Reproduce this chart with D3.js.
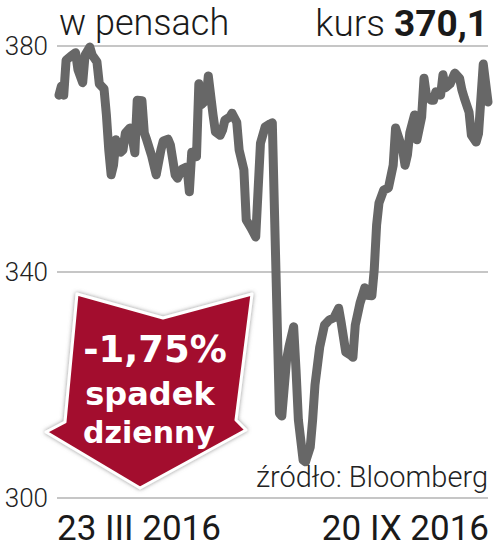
<!DOCTYPE html>
<html>
<head>
<meta charset="utf-8">
<script src="https://cdn.jsdelivr.net/npm/d3@7"></script>
<style>
  html, body { margin: 0; padding: 0; background: #fff; }
  svg { display: block; }
</style>
</head>
<body>
<svg id="chart" width="493" height="549"></svg>
<script>
// ---- data ----
// day offsets since 23 III 2016
const days = [0,1,2,3,5,7,8,10,11,13,14,16,17,19,20,21,22,23,24,26,27,28,30,31,32,33,35,36,37,39,41,43,44,46,47,49,50,52,54,55,56,58,59,60,62,63,65,66,68,69,70,72,73,75,76,78,79,81,83,84,85,87,89,90,93,94,96,97,99,100,101,103,104,106,107,108,110,112,114,116,118,119,121,123,124,125,127,129,130,132,133,134,135,137,139,141,142,143,145,146,147,148,150,151,153,154,155,157,158,159,161,162,163,165,167,169,170,171,173,174,176,177,179,181];
const values = [371.3,372.9,371.3,377.5,378.2,378.8,375.8,373.5,378.4,379.8,378.4,377.2,373.3,372.4,367.8,361.6,357.2,358.9,363.4,361.2,361.6,364.6,365.5,363.4,361.1,370.4,370.3,364.6,363.4,360.7,357.2,361.6,363.2,363.5,362.5,357.2,356.6,358.2,358.6,354.2,361.2,360.4,373.3,369.6,370.4,374.7,367.8,364.8,364.2,365.1,366.9,367.4,368.1,366.5,361.6,358.1,349.2,347.8,346.2,354.5,362.8,365.7,366.2,366.4,315.0,314.5,324.4,326.7,330.3,322.7,313.8,306.7,306.4,309.0,313.8,320.0,326.7,330.6,331.5,331.9,333.6,331.2,325.8,325.3,324.9,330.6,334.5,337.2,335.9,335.8,340.4,348.3,352.2,354.5,354.9,358.9,365.5,364.2,361.6,358.9,360.7,364.6,367.8,363.4,367.4,374.3,371.3,370.4,370.4,371.9,371.3,374.9,372.6,373.3,375.2,374.3,372.2,370.8,368.3,364.2,363.0,364.5,376.8,370.1];
const yTicks = [300, 340, 380];
const startDate = new Date(2016, 2, 23);
const endDate = new Date(2016, 8, 20);
const xLabels = ["23 III 2016", "20 IX 2016"];
const unitLabel = "w pensach";
const priceLabel = "kurs ";
const priceValue = "370,1";
const sourceLabel = "źródło: Bloomberg";
const changeLines = ["-1,75%", "spadek", "dzienny"];

// ---- drawing ----
const svg = d3.select("#chart");
const points = days.map((d, i) => ({ date: d3.timeDay.offset(startDate, d), v: values[i] }));

const x = d3.scaleTime().domain([startDate, endDate]).range([59, 488]);
const y = d3.scaleLinear().domain([300, 380]).range([498, 46]);

const gridX0 = 57, gridX1 = 488;

// gridlines
svg.append("g").selectAll("line").data(yTicks).join("line")
  .attr("x1", gridX0).attr("x2", gridX1)
  .attr("y1", d => y(d)).attr("y2", d => y(d))
  .attr("stroke", "#b3b3b3").attr("stroke-width", 1.6);

// y labels
svg.append("g").selectAll("text").data(yTicks).join("text")
  .attr("x", 48).attr("y", d => y(d))
  .attr("text-anchor", "end").attr("dominant-baseline", "central")
  .attr("font-family", "Roboto").attr("font-weight", 300)
  .attr("font-size", 26).attr("fill", "#222")
  .text(d => d);

// titles
svg.append("text").attr("x", 59).attr("y", 35)
  .attr("font-family", "Roboto").attr("font-weight", 300)
  .attr("font-size", 36).attr("fill", "#1a1a1a").text(unitLabel);

const kt = svg.append("text").attr("x", 488).attr("y", 36)
  .attr("text-anchor", "end")
  .attr("font-family", "Roboto").attr("font-size", 37).attr("fill", "#1a1a1a");
kt.append("tspan").attr("font-weight", 300).text(priceLabel);
kt.append("tspan").attr("font-weight", 700).text(priceValue);

// line
const line = d3.line().x(d => x(d.date)).y(d => y(d.v)).curve(d3.curveLinear);
svg.append("path").datum(points)
  .attr("d", line)
  .attr("fill", "none").attr("stroke", "#676767")
  .attr("stroke-width", 9).attr("stroke-linejoin", "round").attr("stroke-linecap", "round");

// source
svg.append("text").attr("x", 488).attr("y", 487)
  .attr("text-anchor", "end")
  .attr("font-family", "Roboto").attr("font-weight", 300)
  .attr("font-size", 29).attr("fill", "#222").text(sourceLabel);

// x labels
svg.append("text").attr("x", 57).attr("y", 540)
  .attr("font-family", "Roboto").attr("font-size", 35).attr("fill", "#1a1a1a").text(xLabels[0]);
svg.append("text").attr("x", 489).attr("y", 540).attr("text-anchor", "end")
  .attr("font-family", "Roboto").attr("font-size", 35).attr("fill", "#1a1a1a").text(xLabels[1]);

// arrow badge
const defs = svg.append("defs");
const f = defs.append("filter").attr("id", "sh").attr("x", "-20%").attr("y", "-20%").attr("width", "140%").attr("height", "140%");
f.append("feDropShadow").attr("dx", 0).attr("dy", 0).attr("stdDeviation", 2).attr("flood-color", "#777").attr("flood-opacity", 0.8);

const arrowPts = [[77,294],[163,318],[252,294],[236,420],[246,430],[140,488],[46,432],[65,422]];
svg.append("path")
  .attr("d", d3.line()(arrowPts) + "Z")
  .attr("fill", "#a3102d").attr("stroke", "#fff").attr("stroke-width", 3)
  .attr("stroke-linejoin", "round")
  .attr("filter", "url(#sh)");

const at = svg.append("g").attr("font-family", "'DejaVu Sans'").attr("font-weight", 700)
  .attr("fill", "#fff").attr("text-anchor", "middle");
at.append("text").attr("x", 155).attr("y", 362).attr("font-size", 37).text(changeLines[0]);
at.append("text").attr("x", 150).attr("y", 405).attr("font-size", 32).text(changeLines[1]);
at.append("text").attr("x", 149).attr("y", 443).attr("font-size", 30).text(changeLines[2]);
</script>
</body>
</html>
